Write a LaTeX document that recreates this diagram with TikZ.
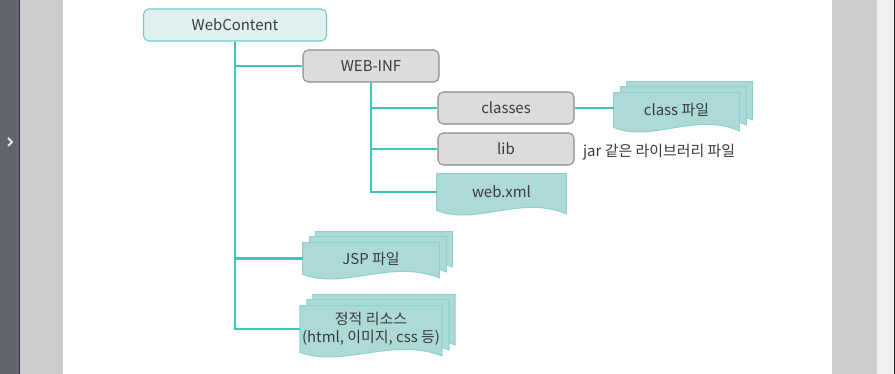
\documentclass[tikz,border=0pt]{standalone}
\usepackage{fontspec}
\setmainfont{Noto Sans CJK KR}
\usetikzlibrary{calc,backgrounds}
\definecolor{WDTeal}{HTML}{3FC3BF}
\definecolor{WDRootFill}{HTML}{E1F1F0}
\definecolor{WDRootLine}{HTML}{6FCCC7}
\definecolor{WDGrayFill}{HTML}{DCDCDC}
\definecolor{WDGrayLine}{HTML}{8C8C8C}
\definecolor{WDSheetFill}{HTML}{ADDAD7}
\definecolor{WDSheetLine}{HTML}{8ED2CD}
\definecolor{WDText}{HTML}{3A3A3A}
\definecolor{WDPanel}{HTML}{CCCCCC}
\definecolor{WDRail}{HTML}{62646E}
\definecolor{WDEdge}{HTML}{F0F0F0}
% one page of a document symbol, drawn behind node #1, shifted by (#2,#3)
\newcommand{\docsheet}[3]{%
  \path[wdsheet] let \p1=([shift={(#2,#3)}]#1.north west),
                     \p2=([shift={(#2,#3)}]#1.south east),
                     \n1={\x2-\x1} in
    (\p1) -- (\x1,\y2)
      .. controls (\x1+0.3*\n1,\y2-9pt) and (\x1+0.65*\n1,\y2+9pt) .. (\x2,\y2-2pt)
      -- (\x2,\y1) -- cycle;}
\tikzset{
  wdbase/.style={
    text=WDText,
    align=center,
    inner sep=1pt,
    font=\fontsize{8.5}{10.5}\selectfont
  },
  wddir/.style={
    wdbase,
    draw=WDGrayLine,
    fill=WDGrayFill,
    rounded corners=3pt,
    line width=0.6pt,
    minimum width=2.72cm,
    minimum height=0.64cm
  },
  wdroot/.style={
    wddir,
    draw=WDRootLine,
    fill=WDRootFill,
    minimum width=3.66cm
  },
  wdfile/.style={wdbase},
  wdsheet/.style={draw=WDSheetLine,fill=WDSheetFill,line width=0.6pt},
  wdtree/.style={draw=WDTeal,line width=1.4pt}
}

\begin{document}
\begin{tikzpicture}[x=0.02cm,y=-0.02cm]
  \useasboundingbox (0,0) rectangle (895,374);
  \fill[WDRail] (0,0) rectangle (19,374);
  \fill[black!80] (19,0) rectangle (20,374);
  \fill[WDPanel] (20,0) rectangle (63,374);
  \fill[WDPanel] (832,0) rectangle (877,374);
  \fill[WDEdge] (877,0) rectangle (894,374);
  \fill[black!85] (894,0) rectangle (895,374);
  \draw[white!80!gray,line width=1.2pt] (8,138) -- (12,142) -- (8,146);

  \node[wdroot] (root) at (235,25) {WebContent};
  \node[wddir] (webinf) at (371,66) {WEB-INF};
  \node[wddir] (classes) at (506,108) {classes};
  \node[wddir] (lib) at (506,149) {lib};
  \node[wdfile,minimum width=2.58cm,minimum height=0.72cm] (webxml) at (501.5,192) {web.xml};
  \node[wdfile,minimum width=2.5cm,minimum height=0.68cm] (cls) at (676.5,110) {class 파일};
  \node[wdfile,minimum width=2.72cm,minimum height=0.62cm] (jsp) at (371,258.5) {JSP 파일};
  \node[wdfile,minimum width=2.72cm,minimum height=0.92cm] (res) at (371,329) {정적 리소스\\(html, 이미지, css 등)};
  \node[wdbase,anchor=west] (jar) at (581,152) {jar 같은 라이브러리 파일};

  \begin{scope}[on background layer]
    \docsheet{webxml}{0}{0}
    \foreach \dx/\dy in {13/-11,7/-6,0/0} {
      \docsheet{cls}{\dx}{\dy}
      \docsheet{jsp}{\dx}{\dy}
      \docsheet{res}{\dx}{\dy}
    }
  \end{scope}

  \draw[wdtree] (root.south) |- (res.west);
  \draw[wdtree] (root.south) |- (jsp.west);
  \draw[wdtree] (root.south) |- (webinf.west);
  \draw[wdtree] (webinf.south) |- (webxml.west);
  \draw[wdtree] (webinf.south) |- (lib.west);
  \draw[wdtree] (webinf.south) |- (classes.west);
  \draw[wdtree] (classes.east) -- (classes.east -| cls.west);
\end{tikzpicture}
\end{document}
